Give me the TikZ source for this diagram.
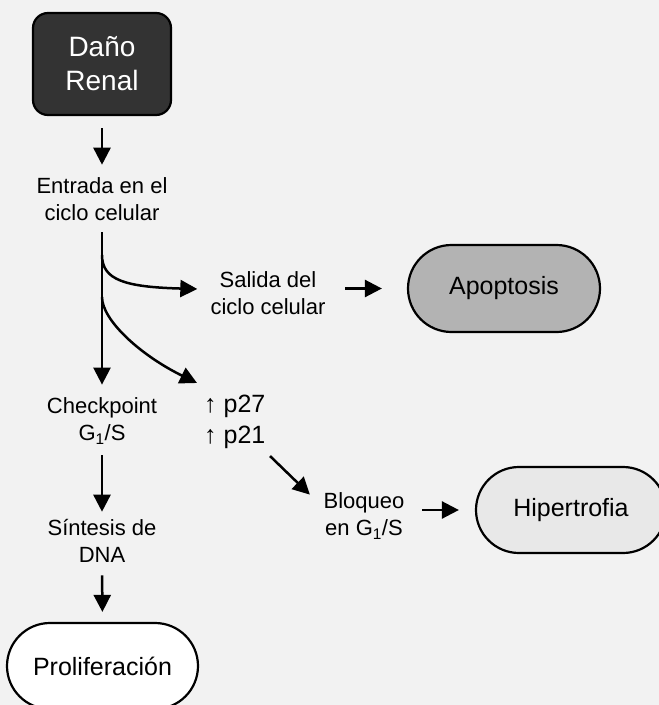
\documentclass[tikz,border=0pt]{standalone}
\usepackage{fontspec}
\setmainfont{Liberation Sans}
\usetikzlibrary{arrows.meta,shapes.misc}
\definecolor{bg}{HTML}{F2F2F2}
\definecolor{darkbox}{HTML}{333333}
\definecolor{apogray}{HTML}{B3B3B3}
\definecolor{hipgray}{HTML}{E8E8E8}
\tikzset{
  arr/.style={line width=2.5pt,-{Triangle[length=17pt,width=17pt]}},
  lbl/.style={inner sep=0pt,align=center,font=\fontsize{22}{27}\selectfont},
  pill/.style={rounded rectangle,draw,line width=2.2pt,inner sep=0pt,
    font=\fontsize{25}{30}\selectfont},
}
\begin{document}
\begin{tikzpicture}[x=1pt,y=-1pt]
\clip (0,0) rectangle (659,705);
\fill[bg] (0,0) rectangle (659,705);
% nodes
\node[draw,fill=darkbox,line width=2.2pt,rounded corners=15pt,minimum width=138pt,
  minimum height=102pt,inner sep=0pt,text=white,align=center,
  font=\fontsize{28}{34}\selectfont] (dano) at (102,64) {Daño\\Renal};
\node[lbl] (entrada) at (102,199) {Entrada en el\\ciclo celular};
\node[lbl] (checkpoint) at (102,421) {Checkpoint\\G\textsubscript{1}/S};
\node[lbl] (sintesis) at (102,541) {Síntesis de\\DNA};
\node[pill,fill=white,minimum width=191pt,minimum height=86pt] (prolif) at (102.5,666) {Proliferación};
\node[lbl] (salida) at (268,293) {Salida del\\ciclo celular};
\node[pill,fill=apogray,minimum width=192pt,minimum height=87pt] (apoptosis) at (504,288.5) {Apoptosis};
\node[inner sep=0pt,align=left,anchor=west,font=\fontsize{25}{31}\selectfont] (p) at (204,422) {↑ p27\\↑ p21};
\node[lbl] (bloqueo) at (364,516) {Bloqueo\\en G\textsubscript{1}/S};
\node[pill,fill=hipgray,minimum width=190pt,minimum height=86pt] (hiper) at (571,510) {Hipertrofia};
\coordinate (b1) at (102,255);
\coordinate (b2) at (102,297);
% connectors
\draw[arr,shorten <=12pt,shorten >=12.5pt] (dano.south) -- (entrada.north);
\draw[arr,shorten <=11.5pt,shorten >=13pt] (entrada.south) -- (checkpoint.north);
\draw[arr] (b1) .. controls (102,280) and (125,287) .. ([shift={(-13,-4)}]salida.west);
\draw[arr] (b2) .. controls (102,320) and (140,355) .. ([shift={(-7,-12)}]p.north west);
\draw[arr,shorten <=19.5pt,shorten >=25pt] (salida.east |- apoptosis.west) -- (apoptosis.west);
\draw[arr] ([shift={(66,7)}]p.south west) -- ([shift={(-13.6,2)}]bloqueo.north west);
\draw[arr,shorten <=17.5pt,shorten >=16pt] (bloqueo.east |- hiper.west) -- (hiper.west);
\draw[arr,shorten <=11pt,shorten >=7.5pt] (checkpoint.south) -- (sintesis.north);
\draw[arr,shorten <=12.5pt,shorten >=10pt] (sintesis.south) -- (prolif.north);
\end{tikzpicture}
\end{document}
